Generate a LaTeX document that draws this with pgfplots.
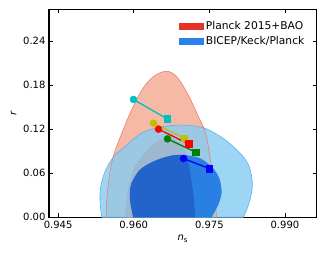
\documentclass[border=0pt]{standalone}
\usepackage{fontspec}
\setmainfont{DejaVu Sans}
\usepackage{pgfplots}
\pgfplotsset{compat=1.18}
\definecolor{salmon}{RGB}{245,185,166}
\definecolor{salmonedge}{RGB}{232,128,112}
\definecolor{lblue}{RGB}{133,204,241}
\definecolor{lblueedge}{RGB}{100,175,232}
\definecolor{grayreg}{RGB}{158,184,208}
\definecolor{mblue}{RGB}{42,128,226}
\definecolor{dblue}{RGB}{35,100,203}
\definecolor{legred}{RGB}{228,52,38}
\definecolor{legblue}{RGB}{42,130,232}
\definecolor{mcyan}{RGB}{0,191,191}
\definecolor{myellow}{RGB}{191,191,0}
\definecolor{mgreen}{RGB}{0,128,0}
\pgfplotsset{legpatch/.style={legend image code/.code={\fill[##1, draw=none] (0pt,-3.75pt) rectangle (25pt,3.75pt);}}}
\begin{document}
\begin{tikzpicture}
\begin{axis}[
  scale only axis, width=267.7pt, height=207.8pt,
  xmin=0.9432, xmax=0.9963, ymin=0, ymax=0.283,
  xtick={0.945,0.960,0.975,0.990}, xticklabels={0.945,0.960,0.975,0.990},
  ytick={0,0.06,0.12,0.18,0.24}, yticklabels={0.00,0.06,0.12,0.18,0.24},
  scaled ticks=false,
  tick align=inside, tick pos=both,
  major tick length=4pt,
  every tick/.style={black, line width=0.8pt},
  axis line style={line width=1.2pt},
  tick label style={font=\fontsize{10}{11}\selectfont},
  /pgf/number format/assume math mode=true,
  xlabel={\textit{n}\textsubscript{s}}, ylabel={\textit{r}},
  label style={font=\fontsize{10}{11}\selectfont},
  legend style={draw=none, fill=none, inner sep=0pt, at={(0.962,0.952)}, anchor=north east,
    font=\fontsize{10.7}{12}\selectfont, row sep=1.5pt, cells={anchor=west},
    /tikz/every even column/.append style={column sep=8pt}},
]
% Planck outer (95%)
\addplot[fill=salmon, draw=none, smooth, tension=0.5, forget plot] coordinates {
(0.95453,0) (0.95466,0.0236) (0.95499,0.0464) (0.95546,0.0691) (0.95625,0.0895)
(0.95711,0.1054) (0.95804,0.1214) (0.95923,0.1409) (0.96055,0.1600) (0.96187,0.1759)
(0.96320,0.1873) (0.96452,0.1945) (0.96584,0.1982) (0.96684,0.1986) (0.96770,0.1963)
(0.96862,0.1909) (0.96968,0.1804) (0.97081,0.1668) (0.97193,0.1509) (0.97299,0.1350)
(0.97392,0.1214) (0.97458,0.1054) (0.97511,0.0827) (0.97564,0.0600) (0.97603,0.0373)
(0.97630,0.0145) (0.97643,0)} \closedcycle;
% BICEP outer (95%)
\addplot[fill=lblue, fill opacity=0.8, draw=lblueedge, line width=0.6pt, smooth, tension=0.5, forget plot] coordinates {
(0.95367,0) (0.95334,0.0191) (0.95334,0.0350) (0.95367,0.0486) (0.95446,0.0645)
(0.95592,0.0818) (0.95790,0.0941) (0.96121,0.1132) (0.96320,0.1191) (0.96584,0.1236)
(0.96849,0.1254) (0.97114,0.1250) (0.97411,0.1214) (0.97742,0.1091) (0.97974,0.0964)
(0.98172,0.0827) (0.98292,0.0691) (0.98344,0.0532) (0.98351,0.0395) (0.98305,0.0236)
(0.98239,0.0100) (0.98172,0)} \closedcycle;
% Planck outer edge
\addplot[draw=salmonedge, line width=0.6pt, smooth, tension=0.5, forget plot] coordinates {
(0.95453,0) (0.95466,0.0236) (0.95499,0.0464) (0.95546,0.0691) (0.95625,0.0895)
(0.95711,0.1054) (0.95804,0.1214) (0.95923,0.1409) (0.96055,0.1600) (0.96187,0.1759)
(0.96320,0.1873) (0.96452,0.1945) (0.96584,0.1982) (0.96684,0.1986) (0.96770,0.1963)
(0.96862,0.1909) (0.96968,0.1804) (0.97081,0.1668) (0.97193,0.1509) (0.97299,0.1350)
(0.97392,0.1214) (0.97458,0.1054) (0.97511,0.0827) (0.97564,0.0600) (0.97603,0.0373)
(0.97630,0.0145) (0.97643,0)};
% Planck inner (68%)
\addplot[fill=grayreg, draw=none, smooth, tension=0.5, forget plot] coordinates {
(0.95823,0) (0.95856,0.0236) (0.95909,0.0464) (0.96022,0.0691) (0.96154,0.0827)
(0.96320,0.0950) (0.96485,0.1045) (0.96651,0.1082) (0.96816,0.1054) (0.96948,0.0986)
(0.97034,0.0895) (0.97087,0.0736) (0.97134,0.0555) (0.97180,0.0327) (0.97213,0.0100)
(0.97226,0)} \closedcycle;
% BICEP inner (68%)
\addplot[fill=mblue, draw=none, smooth, tension=0.5, forget plot] coordinates {
(0.95989,0) (0.95936,0.0191) (0.95923,0.0327) (0.95956,0.0464) (0.96121,0.0645)
(0.96386,0.0759) (0.96717,0.0836) (0.96981,0.0850) (0.97312,0.0805) (0.97577,0.0668)
(0.97709,0.0509) (0.97742,0.0327) (0.97676,0.0168) (0.97544,0)} \closedcycle;
% overlap of the two inner regions
\addplot[fill=dblue, draw=none, smooth, tension=0.5, forget plot] coordinates {
(0.95989,0) (0.95936,0.0191) (0.95923,0.0327) (0.95956,0.0464) (0.96121,0.0645)
(0.96386,0.0759) (0.96717,0.0836) (0.96981,0.0850) (0.97054,0.0841) (0.97087,0.0736)
(0.97134,0.0555) (0.97180,0.0327) (0.97213,0.0100) (0.97226,0)} \closedcycle;
% model lines
\addplot[mcyan, line width=1.3pt, forget plot] coordinates {(0.95995,0.1605) (0.96664,0.1341)};
\addplot[mcyan, only marks, mark=*, mark size=3.5pt, forget plot] coordinates {(0.95995,0.1605)};
\addplot[mcyan, only marks, mark=square*, mark size=3.3pt, forget plot] coordinates {(0.96664,0.1341)};
\addplot[myellow, line width=1.3pt, forget plot] coordinates {(0.96392,0.1282) (0.97001,0.1077)};
\addplot[myellow, only marks, mark=*, mark size=3.5pt, forget plot] coordinates {(0.96392,0.1282)};
\addplot[myellow, only marks, mark=square*, mark size=3.3pt, forget plot] coordinates {(0.97001,0.1077)};
\addplot[red, line width=1.3pt, forget plot] coordinates {(0.96492,0.1200) (0.97087,0.1000)};
\addplot[red, only marks, mark=*, mark size=3.5pt, forget plot] coordinates {(0.96492,0.1200)};
\addplot[red, only marks, mark=square*, mark size=3.3pt, forget plot] coordinates {(0.97087,0.1000)};
\addplot[mgreen, line width=1.3pt, forget plot] coordinates {(0.96670,0.1068) (0.97233,0.0886)};
\addplot[mgreen, only marks, mark=*, mark size=3.5pt, forget plot] coordinates {(0.96670,0.1068)};
\addplot[mgreen, only marks, mark=square*, mark size=3.3pt, forget plot] coordinates {(0.97233,0.0886)};
\addplot[blue, line width=1.3pt, forget plot] coordinates {(0.96988,0.0800) (0.97500,0.0664)};
\addplot[blue, only marks, mark=*, mark size=3.5pt, forget plot] coordinates {(0.96988,0.0800)};
\addplot[blue, only marks, mark=square*, mark size=3.3pt, forget plot] coordinates {(0.97500,0.0664)};
\addlegendimage{legpatch, fill=legred}
\addlegendentry{Planck 2015+BAO}
\addlegendimage{legpatch, fill=legblue}
\addlegendentry{BICEP/Keck/Planck}
\end{axis}
\pgfresetboundingbox
\path ([xshift=-49pt,yshift=-39.7pt]current axis.south west) rectangle ([xshift=10.3pt,yshift=9.5pt]current axis.north east);
\end{tikzpicture}
\end{document}
